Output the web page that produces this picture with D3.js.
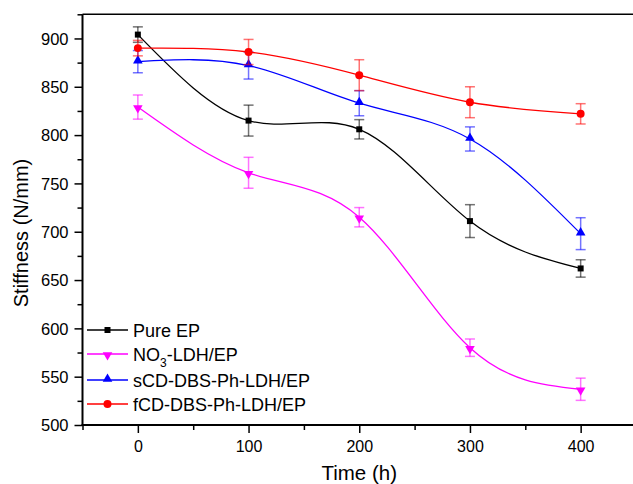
<!DOCTYPE html>
<html>
<head>
<meta charset="utf-8">
<script src="https://cdn.jsdelivr.net/npm/d3@7"></script>
<style>
  body { margin: 0; background: #fff; }
  text { font-family: "Liberation Sans", Arial, sans-serif; fill: #000; }
</style>
</head>
<body>
<div id="chart"></div>
<script>
// data
const times = [0, 100, 200, 300, 400];

const pureEP = [904, 815, 806, 711, 662];
const pureEPErr = [8, 16, 10, 17, 9];

const no3LDH = [829, 761, 715, 580, 537];
const no3LDHErr = [12.5, 16, 10, 9, 11.5];

const sCD = [876, 872, 833, 796, 698];
const sCDErr = [11.5, 14, 13, 12.5, 16.5];

const fCD = [890, 886, 862, 834, 822];
const fCDErr = [8, 13, 16, 16, 10.5];

const xTicks = [0, 100, 200, 300, 400];
const yTicks = [500, 550, 600, 650, 700, 750, 800, 850, 900];

const seriesList = [
  { name: "Pure EP", values: pureEP, err: pureEPErr, color: "#000000", symbol: "square" },
  { name: "NO3-LDH/EP", values: no3LDH, err: no3LDHErr, color: "#ff00ff", symbol: "down" },
  { name: "sCD-DBS-Ph-LDH/EP", values: sCD, err: sCDErr, color: "#0000ff", symbol: "up" },
  { name: "fCD-DBS-Ph-LDH/EP", values: fCD, err: fCDErr, color: "#ff0000", symbol: "circle" }
];

// setup dimensions
const width = 633;
const height = 484;
const margin = { top: 14.3, left: 82.5, bottom: 425, right: 636 };

const svg = d3.select("#chart")
  .append("svg")
  .attr("width", width)
  .attr("height", height);

const x = d3.scaleLinear().domain([-50, 450]).range([margin.left, margin.right]);
const y = d3.scaleLinear().domain([500, 925]).range([margin.bottom, margin.top]);

// frame: top line (right side is off screen)
svg.append("line")
  .attr("x1", margin.left).attr("x2", margin.right)
  .attr("y1", margin.top).attr("y2", margin.top)
  .attr("stroke", "#000").attr("stroke-width", 1.5);

// axes
const xAxis = d3.axisBottom(x)
  .tickValues(d3.range(-50, 451, 50))
  .tickSize(0)
  .tickFormat("");
const xAxisG = svg.append("g")
  .attr("transform", `translate(0,${margin.bottom})`)
  .call(xAxis);
xAxisG.select(".domain").remove();
xAxisG.selectAll(".tick line")
  .attr("stroke", "#000")
  .attr("stroke-width", 1.5)
  .attr("y2", d => (xTicks.includes(d) ? 8 : 5));
xAxisG.selectAll(".tick")
  .filter(d => xTicks.includes(d))
  .append("text")
  .attr("y", 27)
  .attr("text-anchor", "middle")
  .style("font-size", "16px")
  .text(d => d);

const yAxis = d3.axisLeft(y)
  .tickValues(d3.range(500, 926, 25))
  .tickSize(0)
  .tickFormat("");
const yAxisG = svg.append("g")
  .attr("transform", `translate(${margin.left},0)`)
  .call(yAxis);
yAxisG.select(".domain").remove();
yAxisG.selectAll(".tick line")
  .attr("stroke", "#000")
  .attr("stroke-width", 1.5)
  .attr("x2", d => (yTicks.includes(d) ? -8 : -5));
yAxisG.selectAll(".tick")
  .filter(d => yTicks.includes(d))
  .append("text")
  .attr("x", -14)
  .attr("dy", "0.35em")
  .attr("text-anchor", "end")
  .style("font-size", "16.5px")
  .text(d => d);

// axis lines
svg.append("line")
  .attr("x1", margin.left - 1).attr("x2", margin.right)
  .attr("y1", margin.bottom).attr("y2", margin.bottom)
  .attr("stroke", "#000").attr("stroke-width", 2);
svg.append("line")
  .attr("x1", margin.left).attr("x2", margin.left)
  .attr("y1", margin.top).attr("y2", margin.bottom + 1)
  .attr("stroke", "#000").attr("stroke-width", 2);

// axis titles
svg.append("text")
  .attr("x", (margin.left + margin.right) / 2)
  .attr("y", 480)
  .attr("text-anchor", "middle")
  .style("font-size", "20.5px")
  .text("Time (h)");

svg.append("text")
  .attr("transform", "translate(28,233) rotate(-90)")
  .attr("text-anchor", "middle")
  .style("font-size", "20px")
  .text("Stiffness (N/mm)");

// symbols
function symbolPath(kind) {
  if (kind === "square") return d3.symbol(d3.symbolSquare, 36)();
  if (kind === "circle") return d3.symbol(d3.symbolCircle, 50)();
  return d3.symbol(d3.symbolTriangle, 40)();
}
function symbolTransform(kind, px, py) {
  if (kind === "down") return `translate(${px},${py + 1}) rotate(180)`;
  if (kind === "up") return `translate(${px},${py - 1})`;
  return `translate(${px},${py})`;
}

const line = d3.line()
  .x((d, i) => x(times[i]))
  .y(d => y(d))
  .curve(d3.curveNatural);

const plotG = svg.append("g");

seriesList.forEach(s => {
  const g = plotG.append("g");

  // error bars
  s.values.forEach((v, i) => {
    const px = x(times[i]);
    const eg = g.append("g")
      .attr("stroke", s.color)
      .attr("stroke-opacity", 0.55)
      .attr("stroke-width", 1.5);
    eg.append("line")
      .attr("x1", px).attr("x2", px)
      .attr("y1", y(v - s.err[i])).attr("y2", y(v + s.err[i]));
    eg.append("line")
      .attr("x1", px - 5).attr("x2", px + 5)
      .attr("y1", y(v - s.err[i])).attr("y2", y(v - s.err[i]));
    eg.append("line")
      .attr("x1", px - 5).attr("x2", px + 5)
      .attr("y1", y(v + s.err[i])).attr("y2", y(v + s.err[i]));
  });

  g.append("path")
    .datum(s.values)
    .attr("fill", "none")
    .attr("stroke", s.color)
    .attr("stroke-width", 1.3)
    .attr("d", line);

  g.selectAll("path.marker")
    .data(s.values)
    .join("path")
    .attr("class", "marker")
    .attr("d", symbolPath(s.symbol))
    .attr("transform", (d, i) => symbolTransform(s.symbol, x(times[i]), y(d)))
    .attr("fill", s.color);
});

// legend
const legendRows = [330, 354, 380, 404];
const legend = svg.append("g");
seriesList.forEach((s, i) => {
  const ly = legendRows[i];
  legend.append("line")
    .attr("x1", 87).attr("x2", 128)
    .attr("y1", ly).attr("y2", ly)
    .attr("stroke", s.color)
    .attr("stroke-width", 1.3);
  legend.append("path")
    .attr("d", symbolPath(s.symbol))
    .attr("transform", symbolTransform(s.symbol, 107.5, ly))
    .attr("fill", s.color);
  const t = legend.append("text")
    .attr("x", 133)
    .attr("y", ly + 6.5)
    .style("font-size", "18px");
  if (s.name.startsWith("NO3")) {
    t.append("tspan").text("NO");
    t.append("tspan").attr("dy", 6).style("font-size", "12px").text("3");
    t.append("tspan").attr("dy", -6).text("-LDH/EP");
  } else {
    t.text(s.name);
  }
});
</script>
</body>
</html>
